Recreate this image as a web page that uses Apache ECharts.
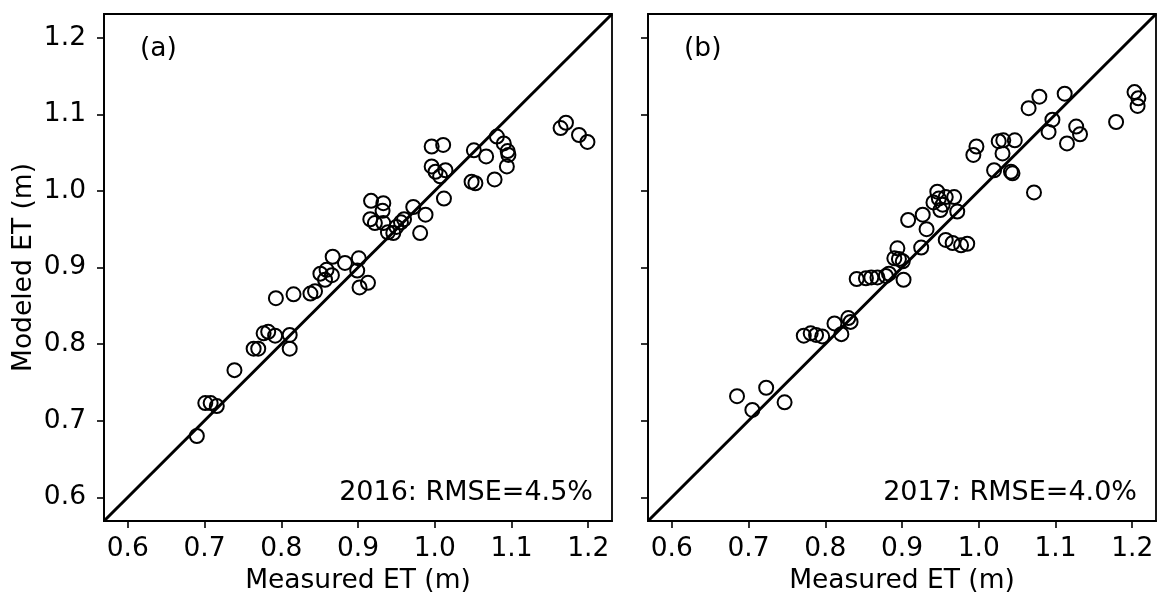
<!DOCTYPE html>
<html><head><meta charset="utf-8">
<script src="https://cdn.jsdelivr.net/npm/echarts@6/dist/echarts.min.js"></script>
<style>html,body{margin:0;padding:0;background:#fff}#c{width:1158px;height:592px}</style>
</head><body><div id="c"></div>
<script>
var tickValues = [0.6, 0.7, 0.8, 0.9, 1.0, 1.1, 1.2];
var axisRange = [0.569, 1.231];
var oneToOne = [0.569, 1.231];
var panelLabels = ['(a)', '(b)'];
var rmseLabels = ['2016: RMSE=4.5%', '2017: RMSE=4.0%'];
var xTitle = 'Measured ET (m)';
var yTitle = 'Modeled ET (m)';

var measured2016 = [0.690,0.701,0.708,0.716,0.739,0.764,0.770,0.777,0.783,0.792,0.811,0.811,0.793,0.816,
  0.838,0.844,0.851,0.857,0.859,0.866,0.867,0.883,0.901,0.899,0.902,0.913,
  0.917,0.933,0.932,0.916,0.922,0.933,0.939,0.946,0.950,0.956,0.960,0.972,0.988,0.981,1.012,
  0.996,1.011,0.996,1.001,1.014,1.007,1.051,1.067,1.048,1.053,1.078,1.081,1.090,1.095,1.096,1.094,
  1.164,1.171,1.188,1.199];
var modeled2016 = [0.680,0.723,0.723,0.719,0.766,0.794,0.794,0.814,0.816,0.811,0.812,0.794,0.860,0.865,
  0.866,0.869,0.892,0.884,0.897,0.890,0.914,0.906,0.912,0.896,0.874,0.880,
  0.987,0.984,0.974,0.963,0.958,0.958,0.946,0.945,0.953,0.959,0.963,0.979,0.969,0.945,0.990,
  1.058,1.060,1.032,1.025,1.027,1.019,1.053,1.045,1.012,1.010,1.015,1.071,1.062,1.052,1.047,1.032,
  1.082,1.089,1.073,1.064];

var measured2017 = [0.685,0.705,0.723,0.747,0.772,0.781,0.788,0.796,0.812,0.821,0.830,0.833,
  0.841,0.853,0.860,0.868,0.879,0.883,0.902,0.894,0.890,0.896,0.901,
  0.908,0.927,0.932,0.925,0.946,0.941,0.948,0.953,0.957,0.950,0.968,0.972,0.957,0.966,0.977,0.985,
  0.993,0.997,1.020,1.026,1.032,1.047,1.031,1.042,1.044,
  1.065,1.079,1.112,1.096,1.091,1.127,1.132,1.115,1.072,1.179,1.203,1.208,1.207];
var modeled2017 = [0.732,0.714,0.743,0.724,0.811,0.814,0.812,0.810,0.827,0.813,0.834,0.829,
  0.885,0.886,0.887,0.887,0.889,0.892,0.884,0.925,0.912,0.911,0.908,
  0.962,0.969,0.950,0.926,0.999,0.985,0.990,0.982,0.992,0.975,0.992,0.973,0.936,0.932,0.929,0.931,
  1.047,1.058,1.027,1.065,1.066,1.066,1.049,1.025,1.023,
  1.108,1.123,1.127,1.093,1.077,1.084,1.074,1.062,0.998,1.090,1.129,1.121,1.111];

function pairs(xs, ys){ return xs.map(function(v,i){ return [v, ys[i]]; }); }

var FONT = 'DejaVu Sans';
var FS = 26.5;
var grids = [
  {left:104, top:14, width:508, height:507},
  {left:648, top:14, width:508, height:507}
];

function xAxis(i){
  return {
    type:'value', gridIndex:i, min:axisRange[0], max:axisRange[1],
    name:xTitle, nameLocation:'middle', nameGap:42,
    nameTextStyle:{fontFamily:FONT, fontSize:FS, color:'#000'},
    axisLine:{show:true, onZero:false, lineStyle:{color:'#000', width:1.8}},
    axisTick:{show:true, inside:false, length:7, lineStyle:{color:'#000', width:1.6}, customValues:tickValues},
    axisLabel:{show:true, margin:15, fontFamily:FONT, fontSize:FS, color:'#000', customValues:tickValues,
      formatter:function(v){return v.toFixed(1);}},
    splitLine:{show:false}
  };
}
function yAxis(i){
  return {
    type:'value', gridIndex:i, min:axisRange[0], max:axisRange[1],
    name: i===0 ? yTitle : '', nameLocation:'middle', nameGap:66, nameRotate:90,
    nameTextStyle:{fontFamily:FONT, fontSize:FS, color:'#000'},
    axisLine:{show:true, onZero:false, lineStyle:{color:'#000', width:1.8}},
    axisTick:{show:true, inside:false, length:7, lineStyle:{color:'#000', width:1.6}, customValues:tickValues},
    axisLabel:{show: i===0, margin:18, fontFamily:FONT, fontSize:FS, color:'#000', customValues:tickValues,
      formatter:function(v){return v.toFixed(1);}},
    splitLine:{show:false}
  };
}

function scatter(i, data){
  return {
    type:'scatter', xAxisIndex:i, yAxisIndex:i, data:data, symbol:'circle', symbolSize:14,
    itemStyle:{color:'rgba(0,0,0,0)', borderColor:'#000', borderWidth:2, opacity:1},
    emphasis:{disabled:true}, z:3
  };
}
function diag(i){
  return {
    type:'line', xAxisIndex:i, yAxisIndex:i, data:[[oneToOne[0],oneToOne[0]],[oneToOne[1],oneToOne[1]]],
    symbol:'none', lineStyle:{color:'#000', width:3}, z:2, silent:true
  };
}

var chart = echarts.init(document.getElementById('c'), null, {renderer:'canvas'});
chart.setOption({
  animation:false,
  backgroundColor:'#fff',
  grid: grids.map(function(g){ return Object.assign({show:true, borderColor:'#000', borderWidth:1.8, backgroundColor:'transparent', containLabel:false, outerBoundsMode:'none'}, g); }),
  xAxis:[xAxis(0), xAxis(1)],
  yAxis:[yAxis(0), yAxis(1)],
  series:[diag(0), scatter(0, pairs(measured2016, modeled2016)), diag(1), scatter(1, pairs(measured2017, modeled2017))],
  graphic:[
    {type:'text', left:140, top:36, style:{text:panelLabels[0], font:FS+'px "'+FONT+'"', fill:'#000'}},
    {type:'text', left:684, top:36, style:{text:panelLabels[1], font:FS+'px "'+FONT+'"', fill:'#000'}},
    {type:'text', right:1158-593, top:479, style:{text:rmseLabels[0], font:'27px "'+FONT+'"', fill:'#000'}},
    {type:'text', right:1158-1137, top:479, style:{text:rmseLabels[1], font:'27px "'+FONT+'"', fill:'#000'}}
  ]
});
</script></body></html>
